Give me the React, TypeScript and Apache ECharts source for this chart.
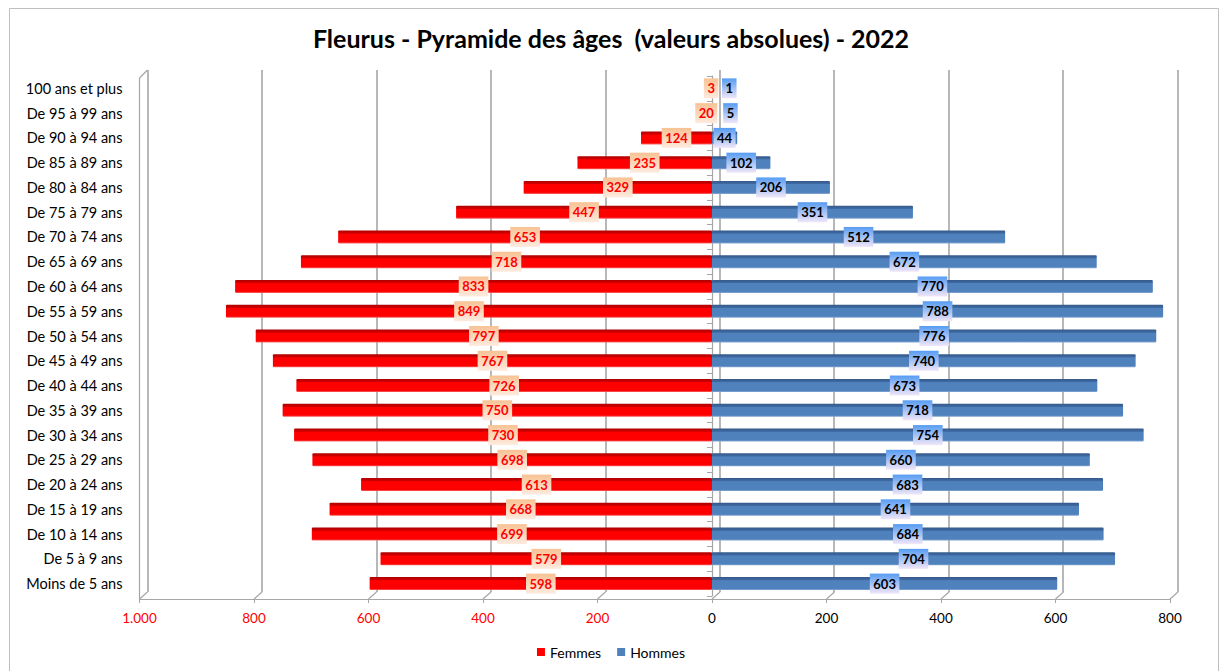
import React, { useEffect, useRef } from "react";
import * as echarts from "echarts";

const categories = [
  "Moins de 5 ans", "De 5 à 9 ans", "De 10 à 14 ans", "De 15 à 19 ans", "De 20 à 24 ans",
  "De 25 à 29 ans", "De 30 à 34 ans", "De 35 à 39 ans", "De 40 à 44 ans", "De 45 à 49 ans",
  "De 50 à 54 ans", "De 55 à 59 ans", "De 60 à 64 ans", "De 65 à 69 ans", "De 70 à 74 ans",
  "De 75 à 79 ans", "De 80 à 84 ans", "De 85 à 89 ans", "De 90 à 94 ans", "De 95 à 99 ans",
  "100 ans et plus",
];
const femmes = [598, 579, 699, 668, 613, 698, 730, 750, 726, 767, 797, 849, 833, 718, 653, 447, 329, 235, 124, 20, 3];
const hommes = [603, 704, 684, 641, 683, 660, 754, 718, 673, 740, 776, 788, 770, 672, 512, 351, 206, 102, 44, 5, 1];
const xTicks = [-1000, -800, -600, -400, -200, 0, 200, 400, 600, 800];
const seriesNames = ["Femmes", "Hommes"];
const titleText = "Fleurus - Pyramide des âges  (valeurs absolues) - 2022";

const FONT = "Lato, 'Open Sans', sans-serif";
const GRID_LINE = "#a6a6a6";

function fmt(v: number): string {
  const a = Math.abs(v);
  return a.toString().replace(/\B(?=(\d{3})+(?!\d))/g, ".");
}

export default function App() {
  const ref = useRef<HTMLDivElement>(null);

  useEffect(() => {
    if (!ref.current) return;
    const chart = echarts.init(ref.current, undefined, { renderer: "svg" });
    const LG = echarts.graphic.LinearGradient;

    const redBar = new LG(0, 0, 0, 1, [
      { offset: 0, color: "#b00000" },
      { offset: 0.22, color: "#d00000" },
      { offset: 0.27, color: "#ff0000" },
      { offset: 0.88, color: "#ff0000" },
      { offset: 1, color: "#f36a6a" },
    ]);
    const blueBar = new LG(0, 0, 0, 1, [
      { offset: 0, color: "#35598a" },
      { offset: 0.22, color: "#3e6aa3" },
      { offset: 0.27, color: "#4f81bd" },
      { offset: 0.88, color: "#4f81bd" },
      { offset: 1, color: "#88a9d4" },
    ]);
    const redLabelBg = new LG(0, 0, 0, 1, [
      { offset: 0, color: "#f8c294" },
      { offset: 1, color: "#fdebdf" },
    ]);
    const blueLabelBg = new LG(0, 0, 0, 1, [
      { offset: 0, color: "#569cf2" },
      { offset: 1, color: "#f0e6f8" },
    ]);

    const xMin = xTicks[0];
    const xMax = xTicks[xTicks.length - 1];
    const step = xTicks[1] - xTicks[0];

    const labelBase = {
      show: true,
      position: "inside",
      formatter: (p: any) => fmt(p.value),
      fontFamily: FONT,
      fontSize: 13,
      lineHeight: 14,
      fontWeight: "bold",
      padding: [3, 3.5],
    };

    const option: any = {
      animation: false,
      backgroundColor: "#ffffff",
      textStyle: { fontFamily: FONT },
      title: {
        text: titleText,
        left: "center",
        top: 20,
        textStyle: { fontFamily: FONT, fontSize: 25, fontWeight: "bold", color: "#000" },
      },
      legend: {
        top: 640,
        left: "center",
        icon: "rect",
        itemWidth: 8,
        itemHeight: 8,
        itemGap: 16,
        textStyle: { fontFamily: FONT, fontSize: 14, color: "#000" },
        data: [
          { name: seriesNames[0], itemStyle: { color: "#ff0000" } },
          { name: seriesNames[1], itemStyle: { color: "#4f81bd" } },
        ],
      },
      graphic: [
        {
          type: "rect",
          left: 7,
          top: 6,
          shape: { width: 1209, height: 700 },
          style: { fill: "none", stroke: "#bfbfbf", lineWidth: 1 },
          silent: true,
          z: -10,
        },
      ],
      grid: [
        { left: 139.5, right: 52, top: 76, bottom: 75 },
        { left: 147.5, right: 44.5, top: 70, bottom: 79 },
      ],
      xAxis: [
        {
          type: "value",
          gridIndex: 0,
          min: xMin,
          max: xMax,
          interval: step,
          offset: 3,
          axisLine: { show: true, onZero: false, lineStyle: { color: GRID_LINE, width: 1.2 } },
          axisTick: { show: true, length: 4, lineStyle: { color: GRID_LINE } },
          splitLine: { show: false },
          axisLabel: {
            margin: 12,
            fontFamily: FONT,
            fontSize: 13.5,
            formatter: (v: number) => fmt(v),
            color: (v: any) => (Number(v) < 0 ? "#ff0000" : "#000000"),
          },
        },
        {
          type: "value",
          gridIndex: 1,
          min: xMin,
          max: xMax,
          interval: step,
          axisLine: { show: false },
          axisTick: { show: false },
          axisLabel: { show: false },
          splitLine: { show: true, lineStyle: { color: GRID_LINE, width: 1.6 } },
        },
      ],
      yAxis: [
        {
          type: "category",
          gridIndex: 0,
          data: categories,
          position: "left",
          axisLine: { show: false, onZero: false },
          axisTick: { show: false },
          axisLabel: { margin: 17, fontFamily: FONT, fontSize: 14.5, color: "#000" },
        },
        {
          type: "category",
          gridIndex: 0,
          data: categories,
          position: "left",
          axisLine: { show: true, onZero: true, lineStyle: { color: GRID_LINE, width: 1.2 } },
          axisTick: { show: true, length: 5, lineStyle: { color: GRID_LINE } },
          axisLabel: { show: false },
        },
        {
          type: "category",
          gridIndex: 1,
          data: categories,
          show: false,
        },
      ],
      series: [
        {
          type: "custom",
          xAxisIndex: 0,
          yAxisIndex: 0,
          silent: true,
          z: 0,
          data: xTicks.map((v) => [v, 0]),
          renderItem: (params: any, api: any) => {
            const cs = params.coordSys;
            const v = api.value(0);
            const px = api.coord([v, 0])[0];
            const bottom = cs.y + cs.height + 3;
            const style = { stroke: GRID_LINE, lineWidth: 1.2, fill: "none" };
            const children: any[] = [
              { type: "line", shape: { x1: px, y1: bottom, x2: px + 8, y2: bottom - 7 }, style },
            ];
            if (v === xMin) {
              children.push({ type: "line", shape: { x1: px, y1: cs.y + 2, x2: px, y2: bottom }, style });
              children.push({ type: "line", shape: { x1: px, y1: cs.y + 2, x2: px + 8, y2: cs.y - 6 }, style });
            }
            return { type: "group", children };
          },
        },
        {
          name: seriesNames[0],
          type: "bar",
          xAxisIndex: 0,
          yAxisIndex: 0,
          stack: "pyr",
          barWidth: 13,
          z: 3,
          itemStyle: { color: redBar, borderRadius: 1 },
          label: { ...labelBase, color: "#ff0000", backgroundColor: redLabelBg },
          data: femmes.map((v) => -v),
        },
        {
          name: seriesNames[1],
          type: "bar",
          xAxisIndex: 0,
          yAxisIndex: 0,
          stack: "pyr",
          barWidth: 13,
          z: 3,
          itemStyle: { color: blueBar, borderRadius: 1 },
          label: { ...labelBase, color: "#000000", backgroundColor: blueLabelBg },
          data: hommes.map((v) => (v < 10 ? { value: v, label: { offset: [17, 0] } } : v)),
        },
      ],
    };

    chart.setOption(option);
    return () => {
      chart.dispose();
    };
  }, []);

  return (
    <div
      ref={ref}
      style={{ position: "absolute", left: 0, top: 0, width: 1222, height: 671 }}
    />
  );
}
